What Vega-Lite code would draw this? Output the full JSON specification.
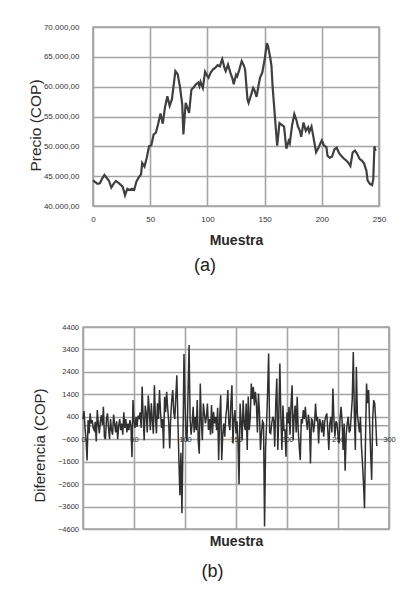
{
  "$schema": "https://vega.github.io/schema/vega-lite/v6.json",
  "padding": {"left": 27, "top": 22, "right": 5, "bottom": 5},
  "background": "white",
  "spacing": 121,
  "bounds": "flush",
  "center": true,
  "config": {
    "font": "Liberation Sans",
    "view": {"stroke": "#a5a5a5", "strokeWidth": 1.6},
    "axis": {"grid": true, "gridColor": "#a5a5a5", "gridWidth": 1.6, "gridOpacity": 1, "domain": false, "ticks": false, "labelColor": "#333333", "titleColor": "#2a2a2a", "labelFont": "Liberation Sans", "titleFont": "Liberation Sans", "labelFlush": false, "labelOverlap": false},
    "axisY": {"gridColor": "#a5a5a5", "gridWidth": 1.6}
  },
  "vconcat": [
    {
      "width": 286,
      "height": 179,
      "title": {"text": "(a)", "orient": "bottom", "frame": "group", "baseline": "middle", "offset": 19, "dx": -31, "fontSize": 18, "fontWeight": "normal", "color": "#222222", "anchor": "middle"},
      "data": {"values": [
        {"muestra": 0, "precio": 44300}, {"muestra": 2, "precio": 44000}, {"muestra": 4, "precio": 43700}, {"muestra": 6, "precio": 43800},
        {"muestra": 8, "precio": 44600}, {"muestra": 10, "precio": 45200}, {"muestra": 12, "precio": 44700}, {"muestra": 14, "precio": 44200},
        {"muestra": 16, "precio": 43100}, {"muestra": 18, "precio": 43700}, {"muestra": 20, "precio": 44200}, {"muestra": 22, "precio": 43900},
        {"muestra": 24, "precio": 43600}, {"muestra": 26, "precio": 43200}, {"muestra": 28, "precio": 41800}, {"muestra": 30, "precio": 42900},
        {"muestra": 32, "precio": 42700}, {"muestra": 34, "precio": 42900}, {"muestra": 36, "precio": 42700}, {"muestra": 38, "precio": 44100},
        {"muestra": 40, "precio": 44800}, {"muestra": 42, "precio": 45300}, {"muestra": 43, "precio": 47200}, {"muestra": 45, "precio": 46600},
        {"muestra": 47, "precio": 48100}, {"muestra": 49, "precio": 50000}, {"muestra": 51, "precio": 50200}, {"muestra": 53, "precio": 52000},
        {"muestra": 55, "precio": 52300}, {"muestra": 57, "precio": 53800}, {"muestra": 59, "precio": 55500}, {"muestra": 61, "precio": 53800},
        {"muestra": 63, "precio": 56600}, {"muestra": 65, "precio": 58400}, {"muestra": 67, "precio": 56800}, {"muestra": 69, "precio": 57900},
        {"muestra": 71, "precio": 61000}, {"muestra": 72, "precio": 62600}, {"muestra": 74, "precio": 62100}, {"muestra": 76, "precio": 60000},
        {"muestra": 78, "precio": 57000}, {"muestra": 79, "precio": 52000}, {"muestra": 81, "precio": 57300}, {"muestra": 83, "precio": 56200},
        {"muestra": 84, "precio": 55600}, {"muestra": 86, "precio": 59500}, {"muestra": 88, "precio": 59900}, {"muestra": 90, "precio": 60400},
        {"muestra": 92, "precio": 60700}, {"muestra": 93, "precio": 60100}, {"muestra": 94, "precio": 60800}, {"muestra": 96, "precio": 59800},
        {"muestra": 98, "precio": 62500}, {"muestra": 100, "precio": 61800}, {"muestra": 101, "precio": 61500}, {"muestra": 103, "precio": 62400},
        {"muestra": 105, "precio": 62900}, {"muestra": 107, "precio": 63200}, {"muestra": 109, "precio": 63600}, {"muestra": 111, "precio": 63400},
        {"muestra": 112, "precio": 64100}, {"muestra": 113, "precio": 64600}, {"muestra": 115, "precio": 63100}, {"muestra": 116, "precio": 62600},
        {"muestra": 118, "precio": 63700}, {"muestra": 120, "precio": 62400}, {"muestra": 122, "precio": 61300}, {"muestra": 123, "precio": 60400},
        {"muestra": 125, "precio": 62000}, {"muestra": 126, "precio": 61700}, {"muestra": 128, "precio": 62900}, {"muestra": 130, "precio": 64300},
        {"muestra": 132, "precio": 63500}, {"muestra": 133, "precio": 62800}, {"muestra": 135, "precio": 57900}, {"muestra": 136, "precio": 57300},
        {"muestra": 138, "precio": 58500}, {"muestra": 140, "precio": 59800}, {"muestra": 141, "precio": 59500}, {"muestra": 143, "precio": 58300},
        {"muestra": 145, "precio": 60500}, {"muestra": 146, "precio": 61500}, {"muestra": 148, "precio": 62400}, {"muestra": 150, "precio": 64500},
        {"muestra": 152, "precio": 67300}, {"muestra": 153, "precio": 66800}, {"muestra": 155, "precio": 64800}, {"muestra": 156, "precio": 63500},
        {"muestra": 157, "precio": 60000}, {"muestra": 159, "precio": 55000}, {"muestra": 161, "precio": 50100}, {"muestra": 163, "precio": 53900},
        {"muestra": 165, "precio": 53600}, {"muestra": 167, "precio": 53300}, {"muestra": 169, "precio": 49600}, {"muestra": 171, "precio": 50900},
        {"muestra": 172, "precio": 50500}, {"muestra": 174, "precio": 53500}, {"muestra": 176, "precio": 55400}, {"muestra": 178, "precio": 54300},
        {"muestra": 179, "precio": 53400}, {"muestra": 181, "precio": 52500}, {"muestra": 182, "precio": 51600}, {"muestra": 184, "precio": 54000},
        {"muestra": 186, "precio": 52600}, {"muestra": 188, "precio": 53200}, {"muestra": 189, "precio": 52400}, {"muestra": 191, "precio": 53300},
        {"muestra": 193, "precio": 51200}, {"muestra": 195, "precio": 49000}, {"muestra": 197, "precio": 49700}, {"muestra": 199, "precio": 50600},
        {"muestra": 200, "precio": 51000}, {"muestra": 202, "precio": 50100}, {"muestra": 204, "precio": 49900}, {"muestra": 205, "precio": 48400},
        {"muestra": 207, "precio": 48100}, {"muestra": 209, "precio": 48300}, {"muestra": 211, "precio": 49500}, {"muestra": 213, "precio": 49800},
        {"muestra": 215, "precio": 48900}, {"muestra": 217, "precio": 48400}, {"muestra": 219, "precio": 48000}, {"muestra": 221, "precio": 47700},
        {"muestra": 223, "precio": 47300}, {"muestra": 225, "precio": 46700}, {"muestra": 227, "precio": 49000}, {"muestra": 229, "precio": 49300},
        {"muestra": 231, "precio": 48700}, {"muestra": 233, "precio": 47900}, {"muestra": 235, "precio": 47600}, {"muestra": 237, "precio": 47100},
        {"muestra": 239, "precio": 45900}, {"muestra": 240, "precio": 44300}, {"muestra": 242, "precio": 43700}, {"muestra": 244, "precio": 43500},
        {"muestra": 245, "precio": 44500}, {"muestra": 246, "precio": 50000}, {"muestra": 247, "precio": 49200}
      ]},
      "mark": {"type": "line", "color": "#404040", "strokeWidth": 2.2},
      "encoding": {
        "x": {"field": "muestra", "type": "quantitative", "scale": {"domain": [0, 250], "nice": false},
          "axis": {"values": [0, 50, 100, 150, 200, 250], "tickCount": 20, "grid": true, "format": "d", "title": "Muestra", "titleFontSize": 14, "titleFontWeight": "bold", "titleY": 34, "titleBaseline": "middle", "labelFontSize": 8, "labelPadding": 9}},
        "y": {"field": "precio", "type": "quantitative", "scale": {"domain": [40000, 70000], "nice": false, "zero": false},
          "axis": {"values": [40000, 45000, 50000, 55000, 60000, 65000, 70000], "tickCount": 20, "grid": true, "labelExpr": "format(datum.value/1000, 'd') + '.000,00'", "labelFontSize": 8, "labelPadding": 14, "labelOverlap": false,
            "title": "Precio (COP)", "titleFontSize": 15.5, "titleFontWeight": "normal", "titleX": -58, "titleY": 98, "titleBaseline": "middle", "titleAngle": -90}}
      }
    },
    {
      "width": 306,
      "height": 202,
      "title": {"text": "(b)", "orient": "bottom", "frame": "group", "baseline": "middle", "offset": 24, "dx": -23.5, "fontSize": 18, "fontWeight": "normal", "color": "#222222", "anchor": "middle"},
      "layer": [
        {
          "data": {"values": [{}]},
          "mark": {"type": "rule", "color": "#a5a5a5", "strokeWidth": 1.5},
          "encoding": {"y": {"datum": 0, "type": "quantitative"}}
        },
        {
          "data": {"values": [
            {"muestra": 0, "diferencia": 300}, {"muestra": 1, "diferencia": 650}, {"muestra": 2, "diferencia": -100}, {"muestra": 3, "diferencia": -600},
            {"muestra": 4, "diferencia": -1550}, {"muestra": 5, "diferencia": 250}, {"muestra": 6, "diferencia": -340}, {"muestra": 7, "diferencia": 550},
            {"muestra": 8, "diferencia": 100}, {"muestra": 9, "diferencia": 250}, {"muestra": 10, "diferencia": -100}, {"muestra": 11, "diferencia": -200},
            {"muestra": 12, "diferencia": 180}, {"muestra": 13, "diferencia": -700}, {"muestra": 14, "diferencia": 700}, {"muestra": 15, "diferencia": 100},
            {"muestra": 16, "diferencia": -340}, {"muestra": 17, "diferencia": 200}, {"muestra": 18, "diferencia": 470}, {"muestra": 19, "diferencia": 30},
            {"muestra": 20, "diferencia": 850}, {"muestra": 21, "diferencia": -500}, {"muestra": 22, "diferencia": -600}, {"muestra": 23, "diferencia": 300},
            {"muestra": 24, "diferencia": 550}, {"muestra": 25, "diferencia": -100}, {"muestra": 26, "diferencia": -600}, {"muestra": 27, "diferencia": 300},
            {"muestra": 28, "diferencia": -200}, {"muestra": 29, "diferencia": -400}, {"muestra": 30, "diferencia": 500}, {"muestra": 31, "diferencia": 100},
            {"muestra": 32, "diferencia": -300}, {"muestra": 33, "diferencia": 200}, {"muestra": 34, "diferencia": -600}, {"muestra": 35, "diferencia": 0},
            {"muestra": 36, "diferencia": 300}, {"muestra": 37, "diferencia": -200}, {"muestra": 38, "diferencia": 100}, {"muestra": 39, "diferencia": -400},
            {"muestra": 40, "diferencia": 600}, {"muestra": 41, "diferencia": -100}, {"muestra": 42, "diferencia": 300}, {"muestra": 43, "diferencia": -300},
            {"muestra": 44, "diferencia": 100}, {"muestra": 45, "diferencia": -200}, {"muestra": 46, "diferencia": 250}, {"muestra": 47, "diferencia": 0},
            {"muestra": 48, "diferencia": -1400}, {"muestra": 49, "diferencia": 1150}, {"muestra": 50, "diferencia": 200}, {"muestra": 51, "diferencia": -100},
            {"muestra": 52, "diferencia": 400}, {"muestra": 53, "diferencia": -50}, {"muestra": 54, "diferencia": 450}, {"muestra": 55, "diferencia": 300},
            {"muestra": 56, "diferencia": 600}, {"muestra": 57, "diferencia": -100}, {"muestra": 58, "diferencia": 1750}, {"muestra": 59, "diferencia": 400},
            {"muestra": 60, "diferencia": -650}, {"muestra": 61, "diferencia": 900}, {"muestra": 62, "diferencia": 550}, {"muestra": 63, "diferencia": -300},
            {"muestra": 64, "diferencia": 1350}, {"muestra": 65, "diferencia": 700}, {"muestra": 66, "diferencia": -200}, {"muestra": 67, "diferencia": 1000},
            {"muestra": 68, "diferencia": 200}, {"muestra": 69, "diferencia": -350}, {"muestra": 70, "diferencia": 1800}, {"muestra": 71, "diferencia": 400},
            {"muestra": 72, "diferencia": -340}, {"muestra": 73, "diferencia": 1000}, {"muestra": 74, "diferencia": 300}, {"muestra": 75, "diferencia": 1590},
            {"muestra": 76, "diferencia": 600}, {"muestra": 77, "diferencia": -100}, {"muestra": 78, "diferencia": 300}, {"muestra": 79, "diferencia": -1010},
            {"muestra": 80, "diferencia": 1290}, {"muestra": 81, "diferencia": 600}, {"muestra": 82, "diferencia": 1510}, {"muestra": 83, "diferencia": 800},
            {"muestra": 84, "diferencia": 200}, {"muestra": 85, "diferencia": -1010}, {"muestra": 86, "diferencia": 400}, {"muestra": 87, "diferencia": 1140},
            {"muestra": 88, "diferencia": 1590}, {"muestra": 89, "diferencia": 600}, {"muestra": 90, "diferencia": 300}, {"muestra": 91, "diferencia": 1300},
            {"muestra": 92, "diferencia": 2250}, {"muestra": 93, "diferencia": 300}, {"muestra": 94, "diferencia": -1500}, {"muestra": 95, "diferencia": -3100},
            {"muestra": 96, "diferencia": -1200}, {"muestra": 97, "diferencia": -3900}, {"muestra": 98, "diferencia": -800}, {"muestra": 99, "diferencia": 3200},
            {"muestra": 100, "diferencia": 1000}, {"muestra": 101, "diferencia": -400}, {"muestra": 102, "diferencia": -700}, {"muestra": 103, "diferencia": 1500},
            {"muestra": 104, "diferencia": 3600}, {"muestra": 105, "diferencia": 300}, {"muestra": 106, "diferencia": -400}, {"muestra": 107, "diferencia": 100},
            {"muestra": 108, "diferencia": 850}, {"muestra": 109, "diferencia": -300}, {"muestra": 110, "diferencia": 400}, {"muestra": 111, "diferencia": -200},
            {"muestra": 112, "diferencia": 1150}, {"muestra": 113, "diferencia": -700}, {"muestra": 114, "diferencia": -1250}, {"muestra": 115, "diferencia": 1880},
            {"muestra": 116, "diferencia": 200}, {"muestra": 117, "diferencia": -640}, {"muestra": 118, "diferencia": 990}, {"muestra": 119, "diferencia": 550},
            {"muestra": 120, "diferencia": 100}, {"muestra": 121, "diferencia": 400}, {"muestra": 122, "diferencia": 990}, {"muestra": 123, "diferencia": -190},
            {"muestra": 124, "diferencia": 300}, {"muestra": 125, "diferencia": -400}, {"muestra": 126, "diferencia": 920}, {"muestra": 127, "diferencia": -340},
            {"muestra": 128, "diferencia": 620}, {"muestra": 129, "diferencia": 100}, {"muestra": 130, "diferencia": 400}, {"muestra": 131, "diferencia": -200},
            {"muestra": 132, "diferencia": 800}, {"muestra": 133, "diferencia": -1530}, {"muestra": 134, "diferencia": 400}, {"muestra": 135, "diferencia": 1360},
            {"muestra": 136, "diferencia": -1530}, {"muestra": 137, "diferencia": -400}, {"muestra": 138, "diferencia": 100}, {"muestra": 139, "diferencia": -490},
            {"muestra": 140, "diferencia": 400}, {"muestra": 141, "diferencia": 800}, {"muestra": 142, "diferencia": 1590}, {"muestra": 143, "diferencia": 100},
            {"muestra": 144, "diferencia": -200}, {"muestra": 145, "diferencia": 1000}, {"muestra": 146, "diferencia": 1800}, {"muestra": 147, "diferencia": -790},
            {"muestra": 148, "diferencia": 300}, {"muestra": 149, "diferencia": 700}, {"muestra": 150, "diferencia": -340}, {"muestra": 151, "diferencia": 200},
            {"muestra": 152, "diferencia": -700}, {"muestra": 153, "diferencia": -2600}, {"muestra": 154, "diferencia": 990}, {"muestra": 155, "diferencia": 200},
            {"muestra": 156, "diferencia": -640}, {"muestra": 157, "diferencia": 1140}, {"muestra": 158, "diferencia": 100}, {"muestra": 159, "diferencia": -200},
            {"muestra": 160, "diferencia": 990}, {"muestra": 161, "diferencia": -1080}, {"muestra": 162, "diferencia": 1300}, {"muestra": 163, "diferencia": -190},
            {"muestra": 164, "diferencia": 400}, {"muestra": 165, "diferencia": 1880}, {"muestra": 166, "diferencia": 1200}, {"muestra": 167, "diferencia": 1730},
            {"muestra": 168, "diferencia": 900}, {"muestra": 169, "diferencia": 1510}, {"muestra": 170, "diferencia": 990}, {"muestra": 171, "diferencia": -300},
            {"muestra": 172, "diferencia": 1440}, {"muestra": 173, "diferencia": 600}, {"muestra": 174, "diferencia": -1080}, {"muestra": 175, "diferencia": -340},
            {"muestra": 176, "diferencia": 200}, {"muestra": 177, "diferencia": 100}, {"muestra": 178, "diferencia": -4490}, {"muestra": 179, "diferencia": -1000},
            {"muestra": 180, "diferencia": 100}, {"muestra": 181, "diferencia": 1500}, {"muestra": 182, "diferencia": 3215}, {"muestra": 183, "diferencia": -300},
            {"muestra": 184, "diferencia": -340}, {"muestra": 185, "diferencia": 100}, {"muestra": 186, "diferencia": 400}, {"muestra": 187, "diferencia": 260},
            {"muestra": 188, "diferencia": -930}, {"muestra": 189, "diferencia": 1000}, {"muestra": 190, "diferencia": 2100}, {"muestra": 191, "diferencia": -1080},
            {"muestra": 192, "diferencia": 500}, {"muestra": 193, "diferencia": 2770}, {"muestra": 194, "diferencia": 400}, {"muestra": 195, "diferencia": -1080},
            {"muestra": 196, "diferencia": 900}, {"muestra": 197, "diferencia": -200}, {"muestra": 198, "diferencia": -190}, {"muestra": 199, "diferencia": -1380},
            {"muestra": 200, "diferencia": 600}, {"muestra": 201, "diferencia": 100}, {"muestra": 202, "diferencia": 840}, {"muestra": 203, "diferencia": -400},
            {"muestra": 204, "diferencia": 1000}, {"muestra": 205, "diferencia": 1800}, {"muestra": 206, "diferencia": -640}, {"muestra": 207, "diferencia": 400},
            {"muestra": 208, "diferencia": 900}, {"muestra": 209, "diferencia": -300}, {"muestra": 210, "diferencia": 1290}, {"muestra": 211, "diferencia": -200},
            {"muestra": 212, "diferencia": -930}, {"muestra": 213, "diferencia": -1530}, {"muestra": 214, "diferencia": 300}, {"muestra": 215, "diferencia": 100},
            {"muestra": 216, "diferencia": 700}, {"muestra": 217, "diferencia": 300}, {"muestra": 218, "diferencia": 840}, {"muestra": 219, "diferencia": 200},
            {"muestra": 220, "diferencia": -190}, {"muestra": 221, "diferencia": 500}, {"muestra": 222, "diferencia": 100}, {"muestra": 223, "diferencia": -1680},
            {"muestra": 224, "diferencia": 300}, {"muestra": 225, "diferencia": 250}, {"muestra": 226, "diferencia": -300}, {"muestra": 227, "diferencia": 100},
            {"muestra": 228, "diferencia": 990}, {"muestra": 229, "diferencia": 200}, {"muestra": 230, "diferencia": 400}, {"muestra": 231, "diferencia": -790},
            {"muestra": 232, "diferencia": 300}, {"muestra": 233, "diferencia": 100}, {"muestra": 234, "diferencia": -300}, {"muestra": 235, "diferencia": 250},
            {"muestra": 236, "diferencia": -490}, {"muestra": 237, "diferencia": 200}, {"muestra": 238, "diferencia": 400}, {"muestra": 239, "diferencia": 550},
            {"muestra": 240, "diferencia": -200}, {"muestra": 241, "diferencia": -1080}, {"muestra": 242, "diferencia": 100}, {"muestra": 243, "diferencia": 400},
            {"muestra": 244, "diferencia": -300}, {"muestra": 245, "diferencia": 1660}, {"muestra": 246, "diferencia": 300}, {"muestra": 247, "diferencia": -490},
            {"muestra": 248, "diferencia": 200}, {"muestra": 249, "diferencia": 100}, {"muestra": 250, "diferencia": -400}, {"muestra": 251, "diferencia": -790},
            {"muestra": 252, "diferencia": 300}, {"muestra": 253, "diferencia": 840}, {"muestra": 254, "diferencia": 200}, {"muestra": 255, "diferencia": -1080},
            {"muestra": 256, "diferencia": 100}, {"muestra": 257, "diferencia": -2000}, {"muestra": 258, "diferencia": -400}, {"muestra": 259, "diferencia": 100},
            {"muestra": 260, "diferencia": 400}, {"muestra": 261, "diferencia": -300}, {"muestra": 262, "diferencia": -190}, {"muestra": 263, "diferencia": 500},
            {"muestra": 264, "diferencia": 1200}, {"muestra": 265, "diferencia": 3290}, {"muestra": 266, "diferencia": 600}, {"muestra": 267, "diferencia": -1080},
            {"muestra": 268, "diferencia": 2620}, {"muestra": 269, "diferencia": 500}, {"muestra": 270, "diferencia": 100}, {"muestra": 271, "diferencia": -300},
            {"muestra": 272, "diferencia": 400}, {"muestra": 273, "diferencia": -930}, {"muestra": 274, "diferencia": -1680}, {"muestra": 275, "diferencia": -2560},
            {"muestra": 276, "diferencia": -3670}, {"muestra": 277, "diferencia": -500}, {"muestra": 278, "diferencia": 1880}, {"muestra": 279, "diferencia": 1000},
            {"muestra": 280, "diferencia": 1590}, {"muestra": 281, "diferencia": 100}, {"muestra": 282, "diferencia": -1200}, {"muestra": 283, "diferencia": -2410},
            {"muestra": 284, "diferencia": 300}, {"muestra": 285, "diferencia": 1140}, {"muestra": 286, "diferencia": 1000}, {"muestra": 287, "diferencia": 200},
            {"muestra": 288, "diferencia": -900}
          ]},
          "mark": {"type": "line", "color": "#303030", "strokeWidth": 1.5},
          "encoding": {
            "x": {"field": "muestra", "type": "quantitative", "scale": {"domain": [0, 300], "nice": false},
              "axis": {"values": [0, 50, 100, 150, 200, 250, 300], "tickCount": 20, "grid": true, "format": "d", "offset": -89.8, "labelBaseline": "middle", "labelPadding": 0, "labelFontSize": 7.5,
                "title": "Muestra", "titleFontSize": 14, "titleFontWeight": "bold", "titleY": 101.8, "titleBaseline": "middle"}},
            "y": {"field": "diferencia", "type": "quantitative", "scale": {"domain": [-4600, 4400], "nice": false, "zero": false},
              "axis": {"values": [-4600, -3600, -2600, -1600, -600, 400, 1400, 2400, 3400, 4400], "tickCount": 20, "grid": true, "format": "d", "labelOverlap": false, "labelFontSize": 7.5, "labelPadding": 4.5,
                "title": "Diferencia (COP)", "titleFontSize": 15, "titleFontWeight": "normal", "titleX": -44, "titleY": 118, "titleBaseline": "middle", "titleAngle": -90}}
          }
        }
      ]
    }
  ]
}
